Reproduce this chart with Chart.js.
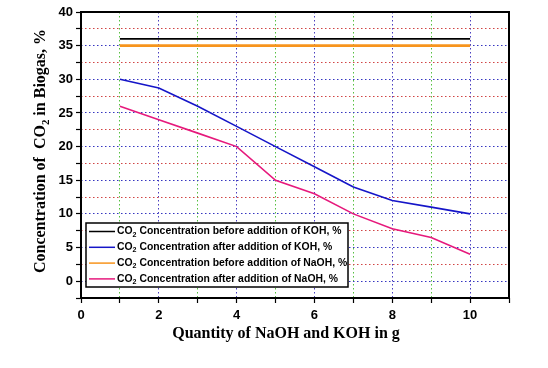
<!DOCTYPE html>
<html>
<head>
<meta charset="utf-8">
<script src="https://cdn.jsdelivr.net/npm/chart.js@4"></script>
<style>
  html, body { margin: 0; padding: 0; background: #fff; }
  #wrap { width: 548px; height: 368px; }
</style>
</head>
<body>
<div id="wrap"><canvas id="chart" width="548" height="368"></canvas></div>
<script>
// data
const quantity = [1, 2, 3, 4, 5, 6, 7, 8, 9, 10];
const kohBefore = [36, 36, 36, 36, 36, 36, 36, 36, 36, 36];
const kohAfter = [30, 28.7, 26, 23, 20, 17, 14, 12, 11, 10];
const naohBefore = [35, 35, 35, 35, 35, 35, 35, 35, 35, 35];
const naohAfter = [26, 24, 22, 20, 15, 13, 10, 7.8, 6.5, 4];

const seriesLabels = [
    'CO₂ Concentration before addition of KOH, %',
    'CO₂ Concentration after addition of KOH, %',
    'CO₂ Concentration before addition of NaOH, %',
    'CO₂ Concentration after addition of NaOH, %'
];
const seriesColors = ['#000000', '#1515c8', '#f7941d', '#e6197c'];
const seriesWidths = [1.6, 1.6, 2.6, 1.6];

const xTitle = 'Quantity of NaOH and KOH in g';
const yTitle = 'Concentration of  CO₂ in Biogas, %';

const tickFont = { family: 'Liberation Sans, Arial, sans-serif', size: 13, weight: 'bold' };

function toPoints(ys) {
    return quantity.map((x, i) => ({ x: x, y: ys[i] }));
}

// draw a string where '₂' is rendered as a small lowered "2"
function drawRich(ctx, text, x, y, size, family, align) {
    const parts = text.split('₂');
    const subSize = size * 0.68;
    const big = 'bold ' + size + 'px ' + family;
    const small = 'bold ' + subSize + 'px ' + family;
    let total = 0;
    parts.forEach((p, i) => {
        ctx.font = big;
        total += ctx.measureText(p).width;
        if (i < parts.length - 1) {
            ctx.font = small;
            total += ctx.measureText('2').width;
        }
    });
    let cx = align === 'center' ? x - total / 2 : x;
    ctx.textAlign = 'left';
    ctx.textBaseline = 'middle';
    parts.forEach((p, i) => {
        ctx.font = big;
        ctx.fillText(p, cx, y);
        cx += ctx.measureText(p).width;
        if (i < parts.length - 1) {
            ctx.font = small;
            ctx.fillText('2', cx, y + size * 0.3);
            cx += ctx.measureText('2').width;
        }
    });
}

const decorPlugin = {
    id: 'decor',
    afterDraw(chart) {
        const ctx = chart.ctx;
        const a = chart.chartArea;
        ctx.save();
        // frame
        ctx.strokeStyle = '#000';
        ctx.lineWidth = 2;
        ctx.strokeRect(a.left, a.top, a.right - a.left, a.bottom - a.top);

        // axis titles
        ctx.fillStyle = '#000';
        drawRich(ctx, xTitle, 286, 334, 16, 'Liberation Serif, Times New Roman, serif', 'center');
        ctx.save();
        ctx.translate(41, 151);
        ctx.rotate(-Math.PI / 2);
        drawRich(ctx, yTitle, 0, 0, 16, 'Liberation Serif, Times New Roman, serif', 'center');
        ctx.restore();

        // legend box inside the plot
        const lx = 86, ly = 223, lw = 262, lh = 64;
        ctx.fillStyle = '#fff';
        ctx.fillRect(lx, ly, lw, lh);
        ctx.strokeStyle = '#000';
        ctx.lineWidth = 1.5;
        ctx.strokeRect(lx, ly, lw, lh);
        chart.data.datasets.forEach((ds, i) => {
            const ry = ly + 8.5 + i * 15.8;
            ctx.strokeStyle = ds.borderColor;
            ctx.lineWidth = 1.5;
            ctx.beginPath();
            ctx.moveTo(lx + 3, ry);
            ctx.lineTo(lx + 29, ry);
            ctx.stroke();
            ctx.fillStyle = '#000';
            drawRich(ctx, ds.label, lx + 31, ry, 10.4, 'Liberation Sans, Arial, sans-serif', 'left');
        });
        ctx.restore();
    }
};

const datasets = [kohBefore, kohAfter, naohBefore, naohAfter].map((ys, i) => ({
    label: seriesLabels[i],
    data: toPoints(ys),
    borderColor: seriesColors[i],
    backgroundColor: seriesColors[i],
    borderWidth: seriesWidths[i],
    pointRadius: 0,
    tension: 0,
    fill: false
}));

new Chart(document.getElementById('chart'), {
    type: 'line',
    data: { datasets: datasets },
    options: {
        responsive: false,
        animation: false,
        layout: { padding: { left: 0, top: 12, right: 39, bottom: 0 } },
        plugins: {
            legend: { display: false },
            tooltip: { enabled: false }
        },
        scales: {
            x: {
                type: 'linear',
                min: 0,
                max: 11,
                afterFit: (s) => { s.height = 70; },
                ticks: {
                    stepSize: 1,
                    autoSkip: false,
                    maxRotation: 0,
                    color: '#000',
                    font: tickFont,
                    padding: 5,
                    callback: (v) => (v % 2 === 0 && v <= 10) ? v : ''
                },
                grid: {
                    color: (c) => (c.tick && c.tick.value % 2 === 1) ? '#55c040' : '#4a3fc0',
                    lineWidth: 1,
                    tickLength: 5,
                    tickColor: '#000',
                    tickWidth: 1.2
                },
                border: { display: false, dash: [1.5, 2.5] }
            },
            y: {
                min: -2.5,
                max: 40,
                afterFit: (s) => { s.width = 81; },
                ticks: {
                    stepSize: 2.5,
                    autoSkip: false,
                    color: '#000',
                    font: tickFont,
                    padding: 3,
                    callback: (v) => (v % 5 === 0) ? v : ''
                },
                grid: {
                    color: (c) => (c.tick && c.tick.value % 5 === 0) ? '#3535c0' : '#d04545',
                    lineWidth: 1,
                    tickLength: 5,
                    tickColor: '#000',
                    tickWidth: 1.2
                },
                border: { display: false, dash: [1.5, 2.5] }
            }
        }
    },
    plugins: [decorPlugin]
});
</script>
</body>
</html>
